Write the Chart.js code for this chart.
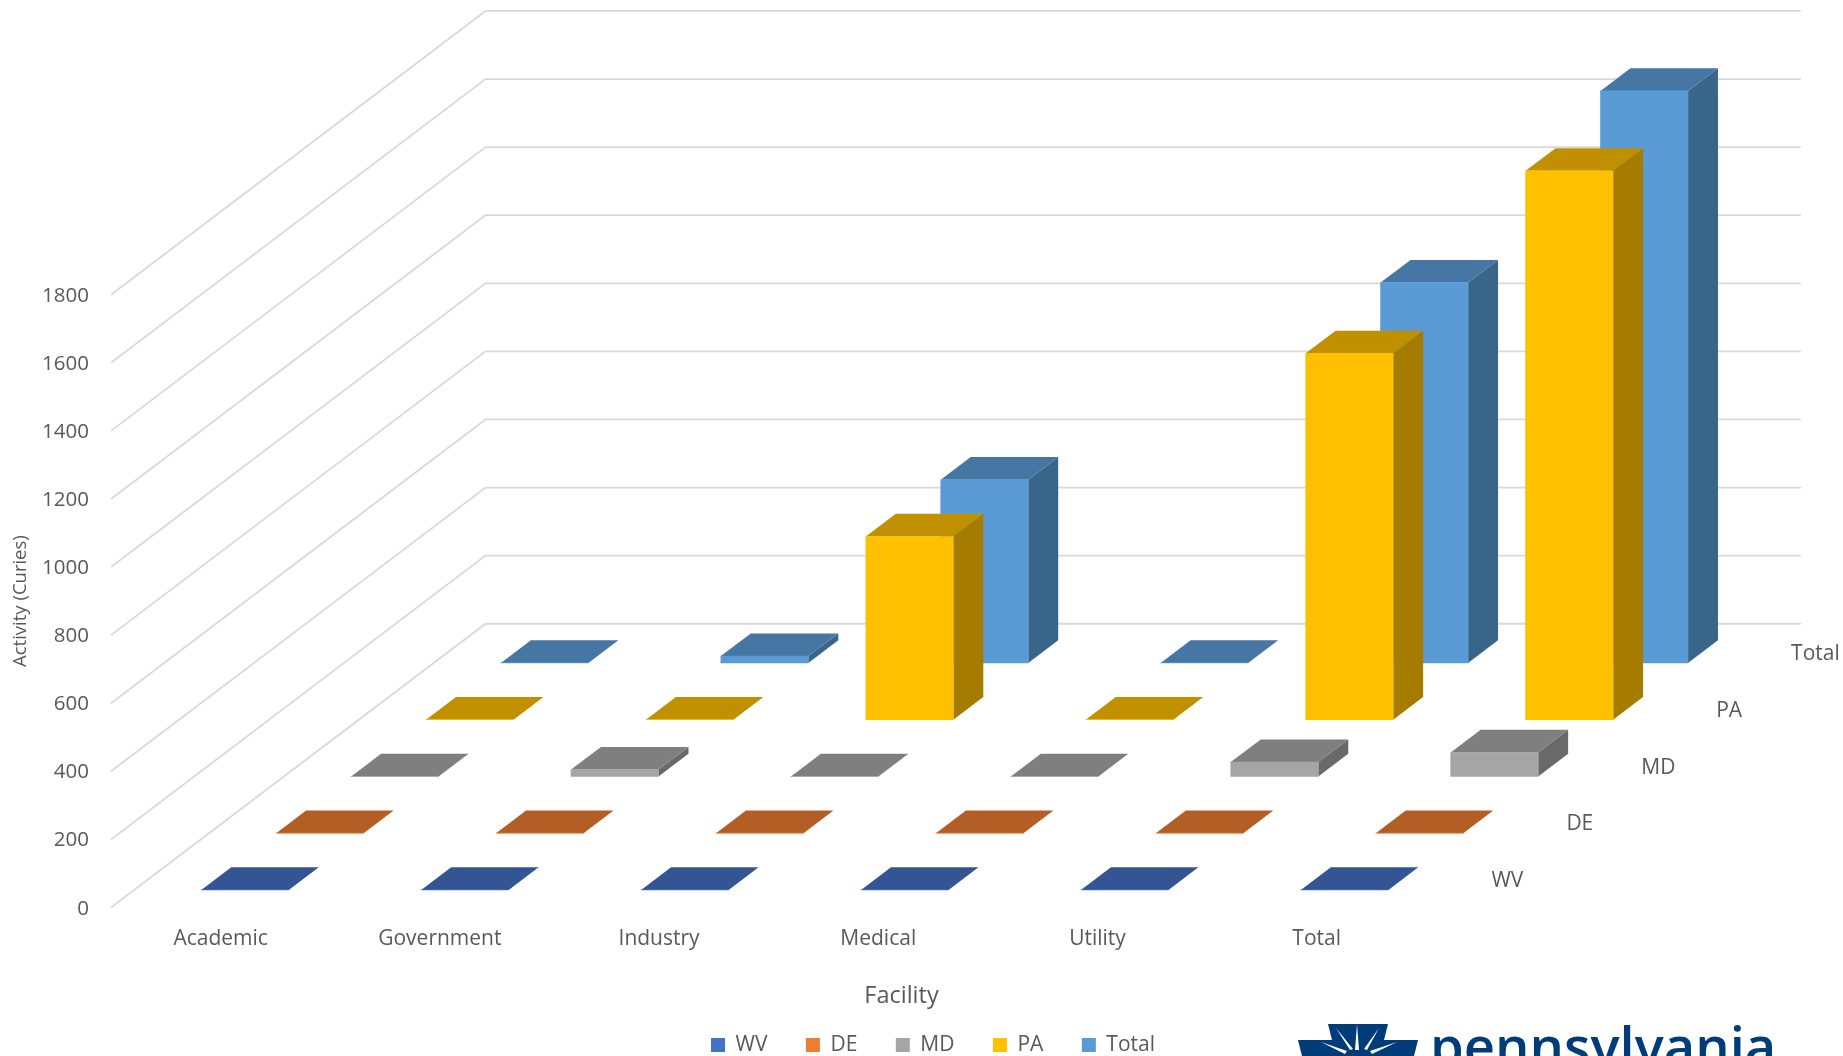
<!DOCTYPE html>
<html>
<head>
<meta charset="utf-8">
<style>
html,body{margin:0;padding:0;background:#fff;overflow:hidden}
#wrap{position:relative;width:1843px;height:1056px;overflow:hidden}
#logoText{position:absolute;left:1430px;top:1005px;font:600 54.3px "Open Sans",sans-serif;color:#003B7A;line-height:80px;white-space:nowrap}
#logoMark{position:absolute;left:0;top:0}
</style>
<script src="https://cdn.jsdelivr.net/npm/chart.js@4"></script>
</head>
<body>
<div id="wrap">
<canvas id="c" width="1843" height="1056" style="display:block"></canvas>
<svg id="logoMark" width="1843" height="1056" xmlns="http://www.w3.org/2000/svg">
<polygon fill="#003B7A" points="1328,1024 1388,1024 1384,1040 1418,1040 1414,1056 1302,1056 1298,1040 1332,1040"/>
<g fill="#fff">
<polygon points="1357,1024 1355,1050 1359,1050"/>
<polygon points="1336,1028 1350,1050 1353,1049"/>
<polygon points="1379,1028 1364,1049 1367,1050"/>
<polygon points="1321,1042 1345,1054 1347,1051"/>
<polygon points="1397,1042 1370,1051 1372,1054"/>
</g>
</svg>
<div id="logoText">pennsylvania</div>
</div>
<script>
const categories = ['Academic','Government','Industry','Medical','Utility','Total'];
const seriesNames = ['WV','DE','MD','PA','Total'];
const wvValues    = [0,0,0,0,0,0];
const deValues    = [0,0,0,0,0,0];
const mdValues    = [0,20,0,0,42,70];
const paValues    = [0,0,538,0,1076,1612];
const totalValues = [0,20,538,0,1117,1680];
const yTicks = [0,200,400,600,800,1000,1200,1400,1600,1800];
const frontColors = ['#4472C4','#ED7D31','#A5A5A5','#FFC000','#5B9BD5'];
const topColors   = ['#335593','#B35E24','#7F7F7F','#C09000','#4576A4'];
const sideColors  = ['#2A4A85','#9A5020','#696969','#A67C00','#39658B'];

const seriesValues = [wvValues,deValues,mdValues,paValues,totalValues];
// one step back along the depth axis, in the units of the x and y scales
const stepX = 0.3417, stepY = 166.7, gapX = 0.326, gapY = 0.31, barDepth = 0.4, catPitch = 1.0032;
const FONT = '"Open Sans", sans-serif', INK = '#595959';

const datasets = seriesNames.map((name,d)=>({
  label:name,
  data:seriesValues[d].map((v,i)=>({
    x:i*catPitch+(d+gapX)*stepX,
    y:[(d+gapY)*stepY,(d+gapY)*stepY+v]
  })),
  backgroundColor:frontColors[d],
  borderWidth:0,
  barThickness:87.5,
  grouped:false,
  clip:false
}));

const depth3d = {
  id:'depth3d',
  beforeDatasetsDraw(chart){
    const {ctx,scales:{x,y}} = chart;
    const X = v=>x.getPixelForValue(v), Y = v=>y.getPixelForValue(v);
    ctx.save();
    ctx.strokeStyle='#D9D9D9';
    ctx.lineWidth=1.8;
    yTicks.forEach(t=>{
      ctx.beginPath();
      ctx.moveTo(X(-0.5),Y(t));
      ctx.lineTo(X(-0.5+5*stepX),Y(t+5*stepY));
      ctx.lineTo(X(5.5+5*stepX),Y(t+5*stepY));
      ctx.stroke();
    });
    ctx.restore();
  },
  beforeDatasetDraw(chart,args){
    const {ctx,scales:{x,y}} = chart;
    const dx = x.getPixelForValue(barDepth*stepX)-x.getPixelForValue(0);
    const dy = y.getPixelForValue(0)-y.getPixelForValue(barDepth*stepY);
    const poly = (c,p)=>{
      ctx.fillStyle=c;ctx.beginPath();
      p.forEach((q,i)=>i?ctx.lineTo(q[0],q[1]):ctx.moveTo(q[0],q[1]));
      ctx.closePath();ctx.fill();
    };
    ctx.save();
    args.meta.data.forEach(el=>{
      const {x:cx,y:top,base,width} = el.getProps(['x','y','base','width'],true);
      const l=cx-width/2,r=cx+width/2;
      poly(sideColors[args.index],[[r,top],[r+dx,top-dy],[r+dx,base-dy],[r,base]]);
      poly(topColors[args.index],[[l,top],[r,top],[r+dx,top-dy],[l+dx,top-dy]]);
    });
    ctx.restore();
  },
  afterDraw(chart){
    const {ctx,scales:{x,y}} = chart;
    ctx.save();
    ctx.font='21px '+FONT;
    ctx.fillStyle=INK;
    ctx.textAlign='left';
    ctx.textBaseline='middle';
    seriesNames.forEach((n,d)=>{
      ctx.fillText(n,x.getPixelForValue(5.5+(d+0.87)*stepX),y.getPixelForValue((d+0.464)*stepY));
    });
    ctx.restore();
  },
  afterLayout(chart){
    const lg = chart.legend;
    lg.left += 87; lg.right += 87;
    lg.top = 1045-38.5-10.5;
  }
};

new Chart(document.getElementById('c'),{
  type:'bar',
  data:{datasets},
  plugins:[depth3d],
  options:{
    responsive:false,
    devicePixelRatio:1,
    animation:false,
    layout:{padding:{top:294.7,right:151,bottom:0,left:0}},
    plugins:{
      tooltip:{enabled:false},
      legend:{
        position:'bottom',
        maxHeight:45.5,
        onClick:null,
        labels:{boxWidth:14,boxHeight:14,padding:38.5,color:INK,font:{family:FONT,size:21}}
      }
    },
    scales:{
      x:{
        type:'linear',min:-0.5,max:6.712,offset:false,
        grid:{display:false,drawTicks:false,offset:false},
        border:{display:false},
        afterBuildTicks(s){s.ticks=categories.map((_,i)=>({value:i}));},
        afterFit(s){s.height=103;s.paddingLeft=0;s.paddingRight=0;},
        ticks:{
          autoSkip:false,maxRotation:0,padding:19,color:INK,
          font:{family:FONT,size:21},
          callback:v=>categories[v]
        },
        title:{display:true,text:'Facility',color:INK,font:{family:FONT,size:23.5},padding:{top:0,bottom:0}}
      },
      y:{
        type:'linear',min:0,max:1800,
        grid:{display:false,drawTicks:false},
        border:{display:false},
        afterBuildTicks(s){s.ticks=yTicks.map(v=>({value:v}));},
        afterFit(s){s.width=111;},
        ticks:{padding:22,labelOffset:1.2,color:INK,font:{family:FONT,size:20.5},callback:v=>String(v)},
        title:{display:true,text:'Activity (Curies)',color:INK,font:{family:FONT,size:18.5},padding:{top:10,bottom:0}}
      }
    }
  }
});
</script>
</body>
</html>
